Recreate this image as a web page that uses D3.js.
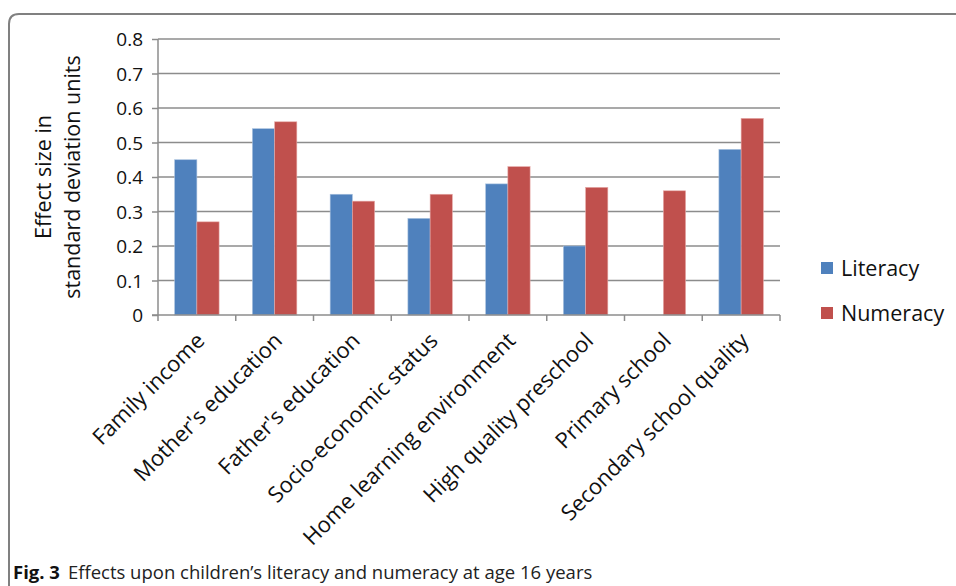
<!DOCTYPE html>
<html>
<head lang="en">
	<meta charset="UTF-8">
	<title></title>
	<script src="https://cdn.jsdelivr.net/npm/d3@7"></script>
	<style>
		body { margin: 0; background: #fff; }
		svg text { font-family: "Open Sans", "Noto Sans", sans-serif; fill: #111; }
	</style>
</head>
<body>

<script>

	var categories = ["Family income", "Mother's education", "Father's education", "Socio-economic status",
		"Home learning environment", "High quality preschool", "Primary school", "Secondary school quality"];
	var literacy = [0.45, 0.54, 0.35, 0.28, 0.38, 0.20, null, 0.48];
	var numeracy = [0.27, 0.56, 0.33, 0.35, 0.43, 0.37, 0.36, 0.57];
	var yTicks = [0, 0.1, 0.2, 0.3, 0.4, 0.5, 0.6, 0.7, 0.8];
	var seriesNames = ["Literacy", "Numeracy"];
	var colors = ["#4f81bd", "#c0504d"];

	var svg = d3.select('body').append("svg").attr("width", 956).attr("height", 586);

	// frame
	svg.append("path")
		.attr("d", "M9,586 L9,24 Q9,14 19,14 L960,14")
		.style("fill", "none").style("stroke", "#808080").style("stroke-width", 2);

	var plotLeft = 158, plotRight = 780, plotTop = 39, plotBottom = 315;

	var x = d3.scaleBand().domain(categories).range([plotLeft, plotRight]);
	var y = d3.scaleLinear().domain([0, 0.8]).range([plotBottom, plotTop]);
	var bw = x.bandwidth() / 3.5;

	// gridlines
	svg.selectAll("line.grid").data(yTicks.slice(1)).enter().append("line")
		.attr("x1", plotLeft).attr("x2", plotRight)
		.attr("y1", function (d) { return y(d); }).attr("y2", function (d) { return y(d); })
		.style("stroke", "#8c8c8c").style("stroke-width", 1.5);

	// bars
	[literacy, numeracy].forEach(function (vals, s) {
		var idx = d3.range(categories.length).filter(function (i) { return vals[i] != null; });
		svg.selectAll("rect.s" + s).data(idx).enter().append("rect")
			.attr("x", function (i) { return x(categories[i]) + bw * 0.75 + s * bw; })
			.attr("y", function (i) { return y(vals[i]); })
			.attr("width", bw)
			.attr("height", function (i) { return plotBottom - y(vals[i]); })
			.style("fill", colors[s])
			.style("stroke", s == 0 ? "#a7c0de" : "#e6a9a7").style("stroke-width", 0.6);
	});

	// y axis
	var yAxis = svg.append("g").attr("transform", "translate(" + plotLeft + ",0)")
		.call(d3.axisLeft(y).tickValues(yTicks).tickSize(6).tickPadding(9)
			.tickFormat(function (d) { return d === 0 ? "0" : d3.format(".1f")(d); }));
	yAxis.select(".domain").style("stroke", "#8c8c8c").style("stroke-width", 1.5).attr("d", "M0," + plotTop + "V" + plotBottom);
	yAxis.selectAll(".tick line").style("stroke", "#8c8c8c").style("stroke-width", 1.5);
	yAxis.selectAll("text").style("font-size", "19px").style("font-family", "'Open Sans', sans-serif")
		.style("fill", "#111").attr("dy", "0.35em");

	// x axis
	var xAxis = svg.append("g").attr("transform", "translate(0," + plotBottom + ")");
	xAxis.append("line").attr("x1", plotLeft - 6).attr("x2", plotRight)
		.style("stroke", "#8c8c8c").style("stroke-width", 1.5);
	var bounds = categories.map(function (d) { return x(d); }).concat([plotRight]);
	xAxis.selectAll("line.tk").data(bounds).enter().append("line")
		.attr("x1", function (d) { return d; }).attr("x2", function (d) { return d; })
		.attr("y1", 0).attr("y2", 6)
		.style("stroke", "#8c8c8c").style("stroke-width", 1.5);
	xAxis.selectAll("text.lbl").data(categories).enter().append("text")
		.attr("transform", function (d) {
			return "translate(" + (x(d) + x.bandwidth() / 2 + 9) + ",27) rotate(-45)";
		})
		.attr("text-anchor", "end")
		.style("font-size", "22px")
		.text(function (d) { return d; });

	// y label
	svg.append("text").attr("transform", "translate(51,177) rotate(-90)")
		.attr("text-anchor", "middle").style("font-size", "21.5px").text("Effect size in");
	svg.append("text").attr("transform", "translate(80,177) rotate(-90)")
		.attr("text-anchor", "middle").style("font-size", "21.5px").text("standard deviation units");

	// legend
	seriesNames.forEach(function (n, i) {
		var ly = 268 + i * 45;
		svg.append("rect").attr("x", 821).attr("y", ly - 6).attr("width", 12).attr("height", 12)
			.style("fill", colors[i]);
		svg.append("text").attr("x", 841).attr("y", ly).attr("dy", "0.35em")
			.style("font-size", "21.5px").text(n);
	});

	// caption
	var cap = svg.append("text").attr("x", 13).attr("y", 579).style("font-size", "18.5px");
	cap.append("tspan").style("font-weight", "bold").text("Fig. 3");
	cap.append("tspan").attr("dx", 8).style("fill", "#222").text("Effects upon children\u2019s literacy and numeracy at age 16 years");

</script>

</body>
</html>
